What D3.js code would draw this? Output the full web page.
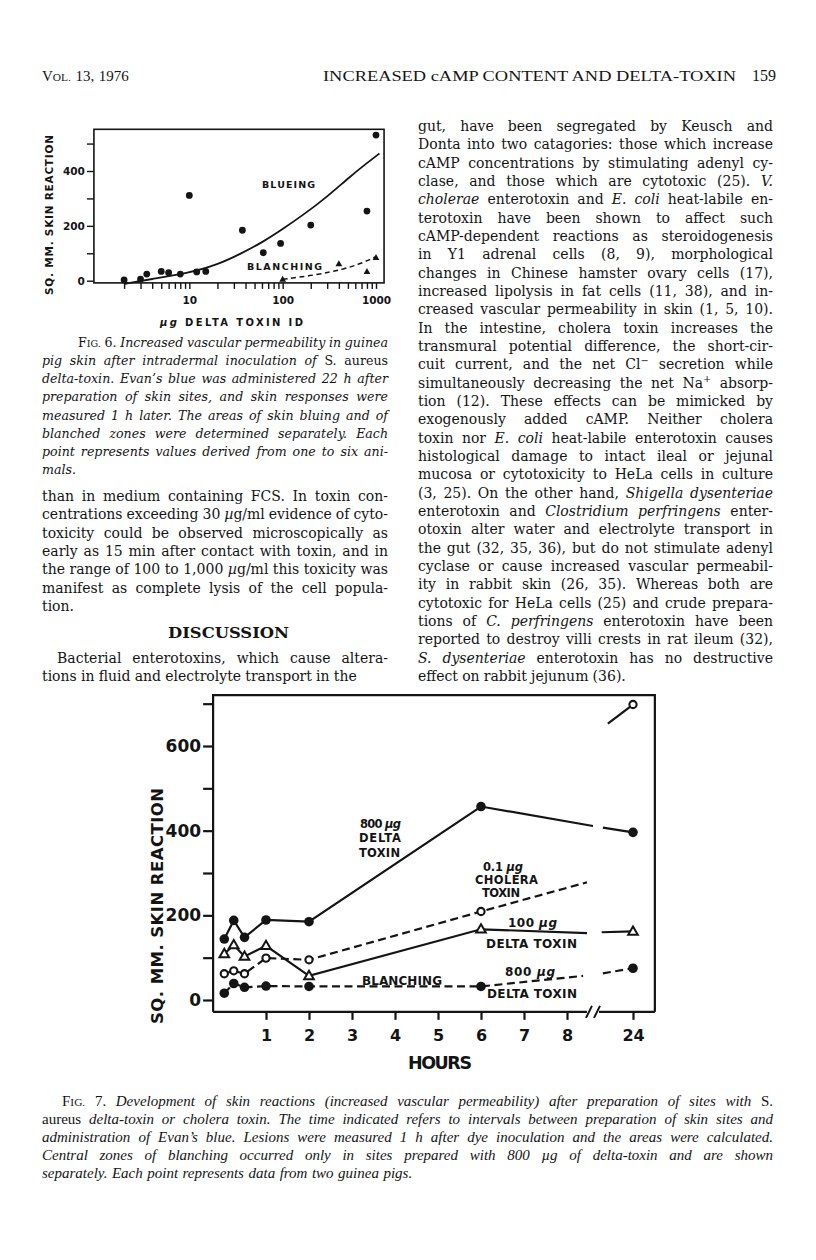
<!DOCTYPE html>
<html><head><meta charset="utf-8">
<script src="https://cdn.jsdelivr.net/npm/d3@7"></script>
<style>body{margin:0;background:#fff}svg{display:block}</style>
</head><body>
<svg id="page" width="816" height="1260"></svg>
<script>
// ---------------- DATA ----------------
// Fig. 6 : skin reaction (sq. mm) vs µg delta toxin (log scale)
const fig6Dose      = [2, 3, 3.5, 5, 6, 8, 10, 12, 15, 37, 62, 95, 200, 800, 1000];
const fig6Blueing   = [3, 6, 24, 34, 29, 24, 311, 32, 34, 184, 102, 136, 203, 254, 531];
const fig6BlanchDose= [100, 400, 800, 1000];
const fig6Blanching = [5, 61, 33, 84];
const fig6CurveDose = [2, 3.8, 10, 19.6, 36.4, 62, 99, 166, 295, 524, 794, 1088];
const fig6CurveBlue = [-12, 5, 29, 57, 100, 142, 187, 240, 304, 379, 428, 464];
const fig6CurveBlDose = [100, 230, 440, 700, 1000];
const fig6CurveBl   = [5, 21, 41, 63, 88];
const fig6YTicks    = [0, 100, 200, 300, 400, 500];
const fig6YLabels   = [0, 200, 400];
const fig6XTicks    = [2,3,4,5,6,7,8,9,10,20,30,40,50,60,70,80,90,100,200,300,400,500,600,700,800,900,1000];
const fig6XLabels   = [10, 100, 1000];
const fig6XExtent   = [0.95, 1220];
const fig6YExtent   = [-8, 552];

// Fig. 7 : skin reaction vs hours
const fig7Hours     = [0.03, 0.25, 0.5, 1, 2, 6, 24];
const fig7Delta800  = [144, 188, 148, 189, 185, 457, 396];
const fig7Cholera   = [62, 69, 62, 99, 95, 209, 698];
const fig7Delta100  = [109, 130, 103, 128, 57, 167, 162];
const fig7Blanch800 = [16, 39, 30, 33, 32, 32, 75];
// line ends on each side of the axis break: [hour-equivalent, value]
const fig7Delta800Break = [[14.3, 411], [16.7, 407]];
const fig7CholeraBreak  = [[12.85, 278], [17.9, 653]];
const fig7Delta100Break = [[12.85, 158], [16.4, 160]];
const fig7Blanch800Break= [[11.9, 57], [16.7, 63]];
const fig7XTicks    = [1, 2, 3, 4, 5, 6, 7, 8, 24];
const fig7YTicks    = [0, 100, 200, 300, 400, 500, 600, 700];
const fig7YLabels   = [0, 200, 400, 600];
const fig7AxisBreak = [12.6, 16.0];
const fig7XExtent   = [-0.23, 29.3];
const fig7YExtent   = [-28, 720];

// ---------------- TEXT ----------------
const headerLeft = "V~ol.~ 13, 1976";
const headerTitle = "INCREASED cAMP CONTENT AND DELTA-TOXIN";
const headerPage = "159";
const fig6Caption = [
 "*F~ig.~ 6.* Increased vascular permeability in guinea",
 "pig skin after intradermal inoculation of *S. aureus*",
 "delta-toxin. Evan’s blue was administered 22 h after",
 "preparation of skin sites, and skin responses were",
 "measured 1 h later. The areas of skin bluing and of",
 "blanched zones were determined separately. Each",
 "point represents values derived from one to six ani-",
 "mals."
];
const leftBody = [
 "than in medium containing FCS. In toxin con-",
 "centrations exceeding 30 *µ*g/ml evidence of cyto-",
 "toxicity could be observed microscopically as",
 "early as 15 min after contact with toxin, and in",
 "the range of 100 to 1,000 *µ*g/ml this toxicity was",
 "manifest as complete lysis of the cell popula-",
 "tion."
];
const discussionTitle = "DISCUSSION";
const leftBody2 = [
 "Bacterial enterotoxins, which cause altera-",
 "tions in fluid and electrolyte transport in the"
];
const rightBody = [
 "gut, have been segregated by Keusch and",
 "Donta into two catagories: those which increase",
 "cAMP concentrations by stimulating adenyl cy-",
 "clase, and those which are cytotoxic (25). *V.*",
 "*cholerae* enterotoxin and *E. coli* heat-labile en-",
 "terotoxin have been shown to affect such",
 "cAMP-dependent reactions as steroidogenesis",
 "in Y1 adrenal cells (8, 9), morphological",
 "changes in Chinese hamster ovary cells (17),",
 "increased lipolysis in fat cells (11, 38), and in-",
 "creased vascular permeability in skin (1, 5, 10).",
 "In the intestine, cholera toxin increases the",
 "transmural potential difference, the short-cir-",
 "cuit current, and the net Cl^− secretion while",
 "simultaneously decreasing the net Na^+ absorp-",
 "tion (12). These effects can be mimicked by",
 "exogenously added cAMP. Neither cholera",
 "toxin nor *E. coli* heat-labile enterotoxin causes",
 "histological damage to intact ileal or jejunal",
 "mucosa or cytotoxicity to HeLa cells in culture",
 "(3, 25). On the other hand, *Shigella dysenteriae*",
 "enterotoxin and *Clostridium perfringens* enter-",
 "otoxin alter water and electrolyte transport in",
 "the gut (32, 35, 36), but do not stimulate adenyl",
 "cyclase or cause increased vascular permeabil-",
 "ity in rabbit skin (26, 35). Whereas both are",
 "cytotoxic for HeLa cells (25) and crude prepara-",
 "tions of *C. perfringens* enterotoxin have been",
 "reported to destroy villi crests in rat ileum (32),",
 "*S. dysenteriae* enterotoxin has no destructive",
 "effect on rabbit jejunum (36)."
];
const fig7Caption = [
 "*F~ig.~ 7.* Development of skin reactions (increased vascular permeability) after preparation of sites with *S.*",
 "*aureus* delta-toxin or cholera toxin. The time indicated refers to intervals between preparation of skin sites and",
 "administration of Evan’s blue. Lesions were measured 1 h after dye inoculation and the areas were calculated.",
 "Central zones of blanching occurred only in sites prepared with 800 µg of delta-toxin and are shown",
 "separately. Each point represents data from two guinea pigs."
];

// ---------------- HELPERS ----------------
const INK = "#141414";
const SERIF = "'DejaVu Serif', serif";
const TIMES = "'Liberation Serif', serif";
const SANS = "'DejaVu Sans', sans-serif";
const svg = d3.select("#page");
svg.append("rect").attr("width", 816).attr("height", 1260).attr("fill", "#fff");

function parseLine(str, baseItalic) {
  const words = []; let it = baseItalic, sc = false;
  str.split(" ").filter(Boolean).forEach(w => {
    const segs = []; let cur = "", sup = false;
    const push = () => { if (cur) { segs.push({t: cur, it, sc, sup}); cur = ""; } };
    for (const ch of w) {
      if (ch === "*") { push(); it = !it; }
      else if (ch === "~") { push(); sc = !sc; }
      else if (ch === "^") { push(); sup = true; }
      else cur += ch;
    }
    push(); words.push(segs);
  });
  return words;
}
function renderWord(g, segs, size, family, weight) {
  const t = g.append("text").attr("font-family", family).attr("font-size", size)
    .attr("font-weight", weight || "normal").attr("fill", INK);
  segs.forEach(s => {
    const ts = t.append("tspan").text(s.sc ? s.t.toUpperCase() : s.t)
      .attr("font-style", s.it ? "italic" : "normal");
    if (s.sc) ts.attr("font-size", size * 0.76);
    if (s.sup) ts.attr("font-size", size * 0.7).attr("dy", -size * 0.38);
  });
  return t;
}
function textLine(g, str, x0, x1, y, o) {
  const words = parseLine(str, !!o.italic);
  const els = words.map(w => renderWord(g, w, o.size, o.family, o.weight));
  const widths = els.map(e => e.node().getComputedTextLength());
  const total = d3.sum(widths), n = els.length;
  let gap = o.size * 0.3, scale = 1;
  if (o.justify && n > 1) {
    gap = (x1 - x0 - total) / (n - 1);
    const minGap = o.size * 0.18;
    if (gap < minGap) { gap = minGap; scale = (x1 - x0 - gap * (n - 1)) / total; }
  }
  let x = x0;
  els.forEach((e, i) => {
    e.attr("x", x).attr("y", y);
    if (scale !== 1) e.attr("textLength", widths[i] * scale).attr("lengthAdjust", "spacingAndGlyphs");
    x += widths[i] * scale + gap;
  });
}
function paragraph(lines, x0, x1, y0, dy, o, firstIndent) {
  const g = svg.append("g");
  lines.forEach((l, i) => {
    const last = i === lines.length - 1;
    textLine(g, l, x0 + (i === 0 ? (firstIndent || 0) : 0), x1, y0 + i * dy,
      Object.assign({}, o, {justify: !last}));
  });
}
function label(g, str, x, y, len, size, opts) {
  opts = opts || {};
  const t = g.append("text").attr("x", x).attr("y", y).attr("font-family", SANS)
    .attr("font-weight", "bold").attr("font-size", size).attr("fill", INK)
    .attr("dominant-baseline", "central");
  if (opts.anchor) t.attr("text-anchor", opts.anchor);
  if (len) t.attr("textLength", len).attr("lengthAdjust", "spacing");
  if (opts.transform) t.attr("transform", opts.transform);
  if (opts.parts) opts.parts.forEach(p => t.append("tspan").text(p.t).attr("font-style", p.it ? "italic" : "normal"));
  else t.text(str);
  return t;
}

// ---------------- PAGE TEXT ----------------
const hdr = svg.append("g");
textLine(hdr, headerLeft, 42, 131, 81, {size: 15, family: TIMES});
hdr.append("text").attr("x", 323).attr("y", 81).attr("font-family", TIMES).attr("font-size", 15.5)
  .attr("fill", INK).attr("textLength", 413).attr("lengthAdjust", "spacingAndGlyphs").text(headerTitle);
hdr.append("text").attr("x", 776).attr("y", 81).attr("font-family", TIMES).attr("font-size", 16)
  .attr("text-anchor", "end").attr("fill", INK).attr("textLength", 24).attr("lengthAdjust", "spacingAndGlyphs")
  .text(headerPage);

paragraph(fig6Caption, 42, 388, 347, 18.15, {size: 12.6, family: SERIF, italic: true}, 36);
paragraph(leftBody, 42, 388, 501, 18.33, {size: 14, family: SERIF});
svg.append("text").attr("x", 168).attr("y", 638).attr("font-family", SERIF).attr("font-weight", "bold")
  .attr("font-size", 15).attr("fill", INK).attr("textLength", 121).attr("lengthAdjust", "spacingAndGlyphs")
  .text(discussionTitle);
paragraph(leftBody2, 42, 388, 663, 18.33, {size: 14, family: SERIF}, 15);
paragraph(rightBody, 418, 773, 131, 18.33, {size: 14, family: SERIF});
paragraph(fig7Caption, 42, 773, 1106, 18.1, {size: 15, family: TIMES, italic: true}, 20);

// ---------------- FIG. 6 ----------------
const g6 = svg.append("g");
const x6 = d3.scaleLog().domain([1, 1000]).range([96, 376]);
const y6 = d3.scaleLinear().domain([0, 400]).range([280.7, 171]);
g6.append("rect").attr("x", x6(fig6XExtent[0])).attr("y", y6(fig6YExtent[1]))
  .attr("width", x6(fig6XExtent[1]) - x6(fig6XExtent[0]))
  .attr("height", y6(fig6YExtent[0]) - y6(fig6YExtent[1]))
  .attr("fill", "none").attr("stroke", INK).attr("stroke-width", 1.6);
const ax6y = g6.append("g").attr("transform", `translate(${x6(fig6XExtent[0])},0)`)
  .call(d3.axisLeft(y6).tickValues(fig6YTicks).tickSize(7).tickPadding(2)
    .tickFormat(d => fig6YLabels.includes(d) ? d : ""));
const ax6x = g6.append("g").attr("transform", `translate(0,${y6(fig6YExtent[0])})`)
  .call(d3.axisBottom(x6).tickValues(fig6XTicks).tickSize(6).tickPadding(8)
    .tickFormat(d => fig6XLabels.includes(d) ? d : ""));
[ax6y, ax6x].forEach(a => {
  a.select(".domain").remove();
  a.selectAll("line").attr("stroke", INK).attr("stroke-width", 1.4);
  a.selectAll("text").attr("font-family", SANS).attr("font-weight", "bold")
    .attr("font-size", 10.5).attr("fill", INK);
});
const line6 = d3.line().x(d => x6(d[0])).y(d => y6(d[1])).curve(d3.curveBasis);
g6.append("path").attr("d", line6(d3.zip(fig6CurveDose, fig6CurveBlue)))
  .attr("fill", "none").attr("stroke", INK).attr("stroke-width", 1.8);
g6.append("path").attr("d", line6(d3.zip(fig6CurveBlDose, fig6CurveBl)))
  .attr("fill", "none").attr("stroke", INK).attr("stroke-width", 1.5).attr("stroke-dasharray", "5,3.5");
g6.selectAll("circle.b").data(d3.zip(fig6Dose, fig6Blueing)).join("circle")
  .attr("cx", d => x6(d[0])).attr("cy", d => y6(d[1])).attr("r", 3.4).attr("fill", INK);
g6.selectAll("path.t").data(d3.zip(fig6BlanchDose, fig6Blanching)).join("path")
  .attr("transform", d => `translate(${x6(d[0])},${y6(d[1])})`)
  .attr("d", "M0,-3.6L3.4,2.4L-3.4,2.4Z").attr("fill", INK);
label(g6, "BLUEING", 262, 184.5, 53, 9.5);
label(g6, "BLANCHING", 247, 266, 75, 9.5);
label(g6, "SQ. MM. SKIN REACTION", 0, 0, 160, 10.5,
  {anchor: "middle", transform: "translate(48.5,215) rotate(-90)"});
label(g6, "", 160, 322, 143, 10,
  {parts: [{t: "µg ", it: true}, {t: "DELTA TOXIN ID"}]});

// ---------------- FIG. 7 ----------------
const g7 = svg.append("g");
const x7 = d3.scaleLinear().domain([0, 8, 24]).range([223, 567, 633]);
const y7 = d3.scaleLinear().domain([0, 600]).range([1000, 746]);
const fx0 = x7(fig7XExtent[0]), fx1 = x7(fig7XExtent[1]);
const fy0 = y7(fig7YExtent[0]), fy1 = y7(fig7YExtent[1]);
g7.append("path").attr("d", `M${fx0},${fy0}V${fy1}H${fx1}V${fy0}`)
  .attr("fill", "none").attr("stroke", INK).attr("stroke-width", 2.2);
const b0 = x7(fig7AxisBreak[0]), b1 = x7(fig7AxisBreak[1]);
g7.append("path").attr("d", `M${fx0},${fy0}H${b0 + 1}M${b1 - 1},${fy0}H${fx1}`)
  .attr("stroke", INK).attr("stroke-width", 2.2);
g7.append("path").attr("d", `M${b0},${fy0 + 6}L${b0 + 6},${fy0 - 6}M${b1 - 6},${fy0 + 6}L${b1},${fy0 - 6}`)
  .attr("stroke", INK).attr("stroke-width", 2);
const ax7y = g7.append("g").attr("transform", `translate(${fx0},0)`)
  .call(d3.axisLeft(y7).tickValues(fig7YTicks).tickSize(10).tickPadding(2)
    .tickFormat(d => fig7YLabels.includes(d) ? d : ""));
const ax7x = g7.append("g").attr("transform", `translate(0,${fy0})`)
  .call(d3.axisBottom(x7).tickValues(fig7XTicks).tickSize(8).tickPadding(10));
ax7y.select(".domain").remove(); ax7x.select(".domain").remove();
ax7y.selectAll("line").attr("stroke", INK).attr("stroke-width", 2.2);
ax7x.selectAll("line").attr("stroke", INK).attr("stroke-width", 2.2);
ax7y.selectAll("text").attr("font-family", SANS).attr("font-weight", "bold").attr("font-size", 17).attr("fill", INK);
ax7x.selectAll("text").attr("font-family", SANS).attr("font-weight", "bold").attr("font-size", 16).attr("fill", INK);

const line7 = d3.line().x(d => x7(d[0])).y(d => y7(d[1]));
function series(vals, brk, dashedMain, dashedTail, marker) {
  const pts = d3.zip(fig7Hours, vals);
  const main = pts.slice(0, pts.length - 1).concat([brk[0]]);
  const tail = [brk[1], pts[pts.length - 1]];
  g7.append("path").attr("d", line7(main)).attr("fill", "none").attr("stroke", INK)
    .attr("stroke-width", 2.2).attr("stroke-dasharray", dashedMain ? "8,4.5" : null);
  g7.append("path").attr("d", line7(tail)).attr("fill", "none").attr("stroke", INK)
    .attr("stroke-width", 2.2).attr("stroke-dasharray", dashedTail ? "8,4.5" : null);
  const m = g7.append("g");
  pts.forEach(p => {
    const cx = x7(p[0]), cy = y7(p[1]);
    if (marker === "filled") m.append("circle").attr("cx", cx).attr("cy", cy).attr("r", 4.8).attr("fill", INK);
    else if (marker === "open") m.append("circle").attr("cx", cx).attr("cy", cy).attr("r", 3.6)
      .attr("fill", "#fff").attr("stroke", INK).attr("stroke-width", 2.1);
    else m.append("path").attr("transform", `translate(${cx},${cy})`).attr("d", "M0,-5L4.8,3.3L-4.8,3.3Z")
      .attr("fill", "#fff").attr("stroke", INK).attr("stroke-width", 2);
  });
}
series(fig7Blanch800, fig7Blanch800Break, true, true, "filled");
series(fig7Cholera, fig7CholeraBreak, true, false, "open");
series(fig7Delta100, fig7Delta100Break, false, false, "tri");
series(fig7Delta800, fig7Delta800Break, false, false, "filled");

label(g7, "", 360, 824, 41, 11.5, {parts: [{t: "800 "}, {t: "µg", it: true}]});
label(g7, "DELTA", 359, 838, 42, 11.5);
label(g7, "TOXIN", 359, 853, 41, 11.5);
label(g7, "", 483, 867, 40, 11.5, {parts: [{t: "0.1 "}, {t: "µg", it: true}]});
label(g7, "CHOLERA", 475, 880, 63, 11.5);
label(g7, "TOXIN", 482, 893, 38, 11.5);
label(g7, "", 508, 923, 49, 12, {parts: [{t: "100  "}, {t: "µg", it: true}]});
label(g7, "DELTA TOXIN", 486, 944, 91, 12);
label(g7, "", 505, 972, 50, 12, {parts: [{t: "800 "}, {t: "µg", it: true}]});
label(g7, "DELTA TOXIN", 487, 994, 90, 12);
label(g7, "BLANCHING", 362, 981, 80, 12);
label(g7, "SQ. MM. SKIN REACTION", 0, 0, 236, 16.5,
  {anchor: "middle", transform: "translate(157,906) rotate(-90)"});
label(g7, "HOURS", 440, 1063, 64, 17.5, {anchor: "middle"});
</script>
</body></html>
